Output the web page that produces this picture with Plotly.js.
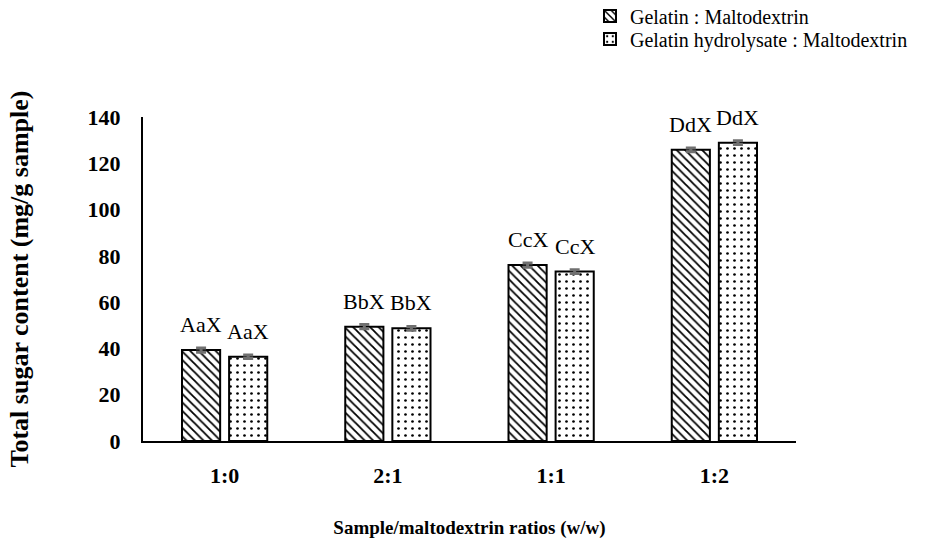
<!DOCTYPE html>
<html>
<head>
<meta charset="utf-8">
<script src="https://cdn.plot.ly/plotly-3.0.1.min.js"></script>
<style>html,body{margin:0;padding:0;background:#fff;}#chart{width:928px;height:548px;}</style>
</head>
<body>
<div id="chart"></div>
<script>
var categories = ['1:0', '2:1', '1:1', '1:2'];
var seriesNames = ['Gelatin : Maltodextrin', 'Gelatin hydrolysate : Maltodextrin'];
var gelatin = [39.3, 49.4, 76.0, 125.8];
var hydrolysate = [36.4, 48.7, 73.2, 128.9];
var gelatinErr = [0.9, 0.9, 0.9, 0.8];
var hydrolysateErr = [0.8, 0.8, 0.8, 0.8];
var gelatinLabels = ['AaX', 'BbX', 'CcX', 'DdX'];
var hydrolysateLabels = ['AaX', 'BbX', 'CcX', 'DdX'];

var serif = '"Liberation Serif", "Times New Roman", serif';

function barTrace(name, vals, errs, shape, size, solidity, legendId) {
  return {
    type: 'bar', name: name, x: categories, y: vals, legend: legendId,
    marker: {
      color: 'white',
      line: {color: 'black', width: 2},
      pattern: {shape: shape, fgcolor: 'black', bgcolor: 'white', size: size, solidity: solidity}
    },
    error_y: {type: 'data', array: errs, visible: true, color: '#707070', thickness: 3, width: 5},
    hoverinfo: 'skip'
  };
}

var traces = [
  barTrace(seriesNames[0], gelatin, gelatinErr, '\\', 6, 0.3, 'legend'),
  barTrace(seriesNames[1], hydrolysate, hydrolysateErr, '.', 7, 0.12, 'legend2')
];

var annotations = [];
function addLabels(vals, labels, shift) {
  for (var i = 0; i < categories.length; i++) {
    annotations.push({
      xref: 'x', yref: 'y', x: categories[i], y: vals[i], text: labels[i],
      showarrow: false, xanchor: 'center', yanchor: 'bottom', xshift: shift, yshift: 11,
      font: {family: serif, size: 22, color: 'black'}
    });
  }
}
addLabels(gelatin, gelatinLabels, -23.5);
addLabels(hydrolysate, hydrolysateLabels, 23.5);

function legendBox(y) {
  return {
    x: 0.6845, xanchor: 'left', y: y, yanchor: 'middle',
    font: {family: serif, size: 20, color: 'black'},
    bgcolor: 'rgba(0,0,0,0)', borderwidth: 0
  };
}

var layout = {
  width: 928, height: 548,
  margin: {l: 143, r: 132, t: 117, b: 107, autoexpand: false},
  paper_bgcolor: 'white', plot_bgcolor: 'white',
  bargap: 0.423, bargroupgap: 0.19,
  showlegend: true,
  legend: legendBox(1.3117),
  legend2: legendBox(1.2407),
  xaxis: {
    showline: true, linecolor: 'black', linewidth: 2, showgrid: false, zeroline: false,
    ticks: '', ticklabelstandoff: 14,
    tickfont: {family: serif, size: 22, color: 'black', weight: 'bold'},
    title: {text: '<b>Sample/maltodextrin ratios (w/w)</b>', font: {family: serif, size: 19, color: 'black'}, standoff: 33}
  },
  yaxis: {
    range: [0, 140], dtick: 20, showline: true, linecolor: 'black', linewidth: 2,
    showgrid: false, zeroline: false, ticks: '', ticklabelstandoff: 16,
    tickfont: {family: serif, size: 22, color: 'black', weight: 'bold'},
    title: {text: '<b>Total sugar content (mg/g sample)</b>', font: {family: serif, size: 26, color: 'black'}, standoff: 51}
  },
  annotations: annotations
};

Plotly.newPlot('chart', traces, layout, {displayModeBar: false, staticPlot: true});
</script>
</body>
</html>
